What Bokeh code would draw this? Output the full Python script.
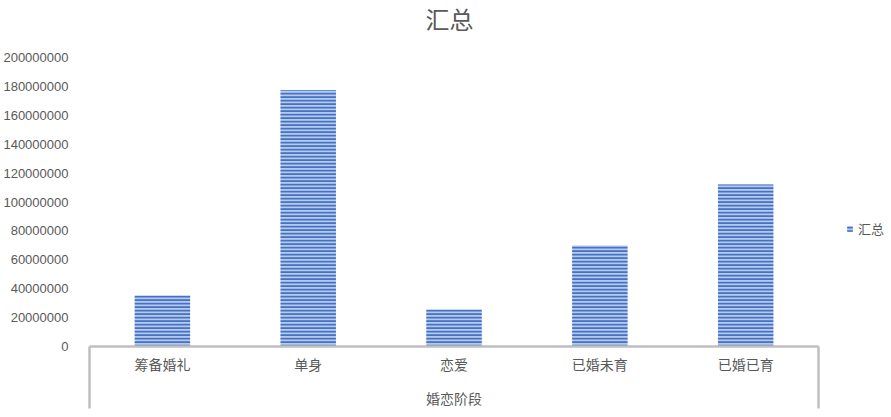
from bokeh.plotting import figure
from bokeh.models import (Range1d, FixedTicker, Legend, LegendItem, ColumnDataSource,
                          Label, LinearAxis)
from bokeh.embed import file_html
from bokeh.resources import INLINE

# ---- data ----
categories = ["筹备婚礼", "单身", "恋爱", "已婚未育", "已婚已育"]
totals = [35300000, 177300000, 25600000, 69900000, 112100000]
y_ticks = [0, 20000000, 40000000, 60000000, 80000000, 100000000,
           120000000, 140000000, 160000000, 180000000, 200000000]
series_name = "汇总"
chart_title = "汇总"
x_title = "婚恋阶段"

CJK = "Noto Sans CJK SC"
GREY = "#595959"
AXIS_GREY = "#BFBFBF"

# ---- layout (pixels) ----
W, H = 889, 415
LEFT, AXIS_RIGHT, TOP_TICK, ZERO = 88, 818, 57, 346

n = len(categories)
centers = [i + 0.5 for i in range(n)]   # category slot centres
source = ColumnDataSource(dict(x=centers, cat=categories, total=totals))

x_end = n * (W - LEFT) / (AXIS_RIGHT - LEFT)
y_end = y_ticks[-1] * ZERO / (ZERO - TOP_TICK)

p = figure(width=W, height=H,
           x_range=Range1d(0, x_end),
           y_range=Range1d(0, y_end),
           output_backend="svg", toolbar_location=None,
           min_border_left=LEFT, min_border_right=0,
           min_border_top=0, min_border_bottom=H - ZERO)

p.outline_line_color = None
p.xgrid.grid_line_color = None
p.ygrid.grid_line_color = None

# y axis
yax = p.yaxis[0]
yax.ticker = FixedTicker(ticks=y_ticks)
yax.axis_line_color = None
yax.major_tick_line_color = None
yax.minor_tick_line_color = None
yax.major_label_text_font = "Liberation Sans"
yax.major_label_text_font_size = "13px"
yax.major_label_text_color = GREY
yax.major_label_standoff = 15
yax.formatter.use_scientific = False

# x axis: category labels at slot centres, edge ticks at the ends
xax = p.xaxis[0]
xax.bounds = (0, n)
xax.ticker = FixedTicker(ticks=centers, minor_ticks=[0, n])
xax.major_label_overrides = {c: lab for c, lab in zip(centers, categories)}
xax.axis_line_color = AXIS_GREY
xax.axis_line_width = 2.5
xax.major_tick_line_color = None
xax.major_tick_out = 0
xax.major_tick_in = 0
xax.minor_tick_line_color = AXIS_GREY
xax.minor_tick_line_width = 2.5
xax.minor_tick_out = 0
xax.minor_tick_in = -62
xax.major_label_text_font = CJK
xax.major_label_text_font_size = "14px"
xax.major_label_text_color = GREY
xax.major_label_standoff = 7

# second level of the category axis: the group label, centred on the categories
group_axis = LinearAxis(ticker=FixedTicker(ticks=[n / 2]),
                        major_label_overrides={n / 2: x_title})
group_axis.axis_line_color = None
group_axis.major_tick_line_color = None
group_axis.minor_tick_line_color = None
group_axis.major_tick_out = 0
group_axis.major_tick_in = 0
group_axis.major_label_text_font = CJK
group_axis.major_label_text_font_size = "14px"
group_axis.major_label_text_color = GREY
group_axis.major_label_standoff = 11
p.add_layout(group_axis, "below")

# bars
r = p.vbar(x="x", top="total", source=source, width=0.38,
           fill_color="#B7CAEC", line_color=None,
           hatch_pattern="horizontal_line", hatch_color="#4472C4",
           hatch_scale=3.5, hatch_weight=2)

# title
title = Label(x=448 - LEFT, y=ZERO - 18, x_units="screen", y_units="screen",
              text=chart_title, text_align="center", text_baseline="middle",
              text_font=CJK, text_font_size="24px", text_color=GREY)
p.add_layout(title)

legend = Legend(items=[LegendItem(label=series_name, renderers=[r])],
                location=(845 - LEFT, ZERO - 228 - 10), orientation="vertical",
                border_line_color=None, background_fill_alpha=0,
                glyph_width=7, glyph_height=7, label_standoff=5,
                padding=0, margin=0,
                label_text_font=CJK, label_text_font_size="13px",
                label_text_color=GREY)
p.add_layout(legend, "center")

open("out.html", "w").write(file_html(p, INLINE))
